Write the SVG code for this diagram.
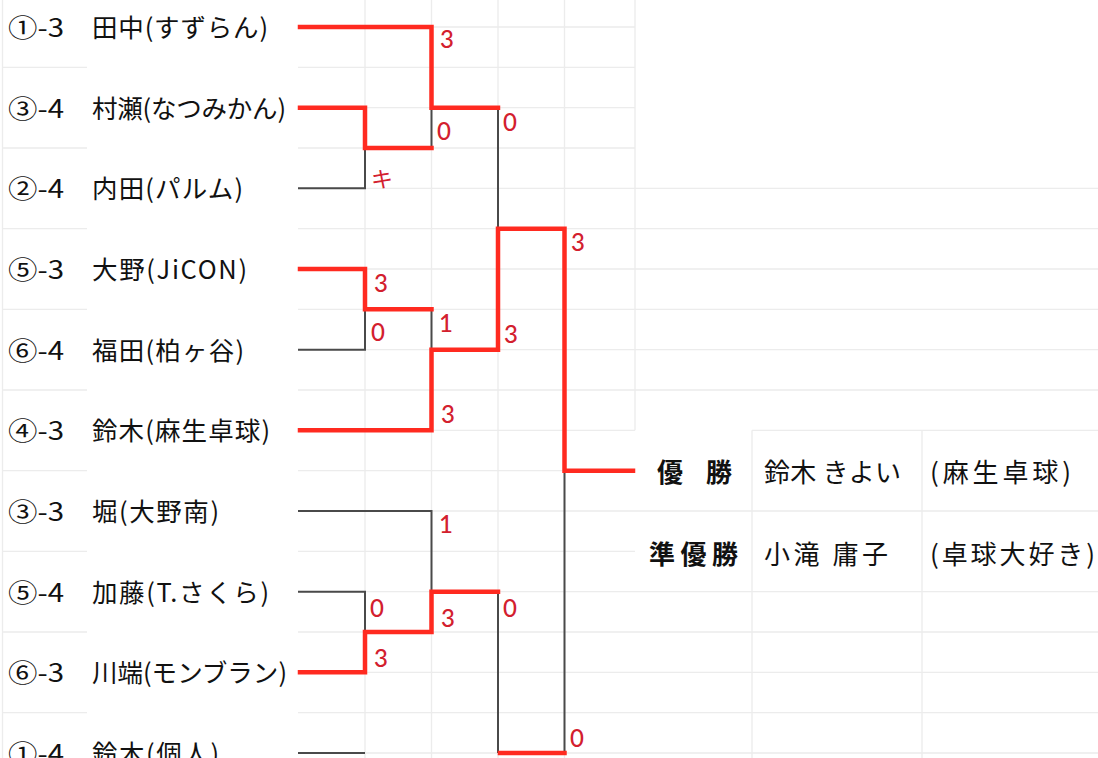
<svg xmlns="http://www.w3.org/2000/svg" width="1098" height="758" viewBox="0 0 1098 758">
<style>
.grid{fill:none;stroke:#ececec;stroke-width:1.3}
.win{fill:none;stroke:#ff2a20;stroke-width:4.5;stroke-linecap:square;stroke-linejoin:miter}
.lose{fill:none;stroke:#4a4a4a;stroke-width:2}
.seed{font-family:'Noto Sans CJK JP','Noto Sans',sans-serif;font-size:25px;fill:#111}
.name{font-family:'Noto Sans CJK JP','Noto Sans',sans-serif;font-size:25.5px;fill:#111}
.score{font-family:Lato,'Noto Sans',sans-serif;font-size:24px;font-weight:500;fill:#d3202e}
.kana{font-family:'Noto Sans CJK JP',sans-serif;font-size:22px;fill:#d3202e}
.title{font-family:'Noto Sans CJK JP',sans-serif;font-size:26px;font-weight:bold;fill:#111}
.res{font-family:'Noto Sans CJK JP',sans-serif;font-size:26px;fill:#111}
</style>
<rect width="1098" height="758" fill="#fff"/>
<g id="grid">
<path class="grid" d="M2.5,0V758 M2,67.3H87 M2,148H87 M2,228.7H87 M2,309.3H87 M2,390H87 M2,470.7H87 M2,551.3H87 M2,632H87 M2,712.7H87"/>
<path class="grid" d="M298,27H635 M298,67.3H635 M298,107.7H635 M298,148H635 M298,188.3H635 M298,228.7H635 M298,269H635 M298,309.3H635 M298,349.7H635 M298,390H635 M298,430.3H635 M298,470.7H635 M298,511H635 M298,551.3H635 M298,591.7H635 M298,632H635 M298,672.3H635 M298,712.7H635 M298,753H635"/>
<path class="grid" d="M365,0V758 M431.5,0V758 M498,0V758 M564.5,0V758 M635,0V430.3"/>
<path class="grid" d="M635,188.3H1098 M635,228.7H1098 M635,269H1098 M635,309.3H1098 M635,349.7H1098 M635,390H1098 M752,430.3H1098 M635,511H1098 M635,591.7H1098 M635,632H1098 M635,672.3H1098 M635,712.7H1098 M635,753H1098 M752,430.3V758 M922,430.3V758"/>
</g>
<g id="connectors">
<path class="lose" d="M298,188.3H365V148 M431.5,107.7V148 M298,349.7H365V309.3 M431.5,309.3V349.7 M498,107.7V228.7 M298,511H431.5V591.7 M298,591.7H365V632 M498,591.7V753 M564.5,470.7V753 M298,753H365"/>
<path class="win" d="M300,27H431.5V107.7H498"/>
<path class="win" d="M300,107.7H365V148H431.5"/>
<path class="win" d="M300,269H365V309.3H431.5"/>
<path class="win" d="M300,430.3H431.5V349.7H498V228.7H564.5V470.7H633"/>
<path class="win" d="M300,672.3H365V632H431.5V591.7H498"/>
<path class="win" d="M500,753H564.5"/>
</g>
<g id="scores">
<text class="score" x="440" y="48">3</text>
<text class="score" x="437" y="140">0</text>
<text class="kana" x="371" y="187">キ</text>
<text class="score" x="503" y="131">0</text>
<text class="score" x="571" y="251">3</text>
<text class="score" x="374" y="292">3</text>
<text class="score" x="371" y="341">0</text>
<text class="score" x="439" y="332">1</text>
<text class="score" x="504" y="343">3</text>
<text class="score" x="441" y="423">3</text>
<text class="score" x="439" y="533">1</text>
<text class="score" x="370" y="617">0</text>
<text class="score" x="441" y="627">3</text>
<text class="score" x="503" y="617">0</text>
<text class="score" x="374" y="667">3</text>
<text class="score" x="570" y="747">0</text>
</g>
<g id="p1"><text class="seed" x="8" y="37" textLength="56" lengthAdjust="spacingAndGlyphs">①-3</text><text class="name" x="92" y="37" textLength="176">田中(すずらん)</text></g>
<g id="p2"><text class="seed" x="8" y="117.7" textLength="56" lengthAdjust="spacingAndGlyphs">③-4</text><text class="name" x="92" y="117.7" textLength="194">村瀬(なつみかん)</text></g>
<g id="p3"><text class="seed" x="8" y="198.3" textLength="56" lengthAdjust="spacingAndGlyphs">②-4</text><text class="name" x="92" y="198.3" textLength="151">内田(パルム)</text></g>
<g id="p4"><text class="seed" x="8" y="279" textLength="56" lengthAdjust="spacingAndGlyphs">⑤-3</text><text class="name" x="92" y="279" textLength="155">大野(JiCON)</text></g>
<g id="p5"><text class="seed" x="8" y="359.7" textLength="56" lengthAdjust="spacingAndGlyphs">⑥-4</text><text class="name" x="92" y="359.7" textLength="152">福田(柏ヶ谷)</text></g>
<g id="p6"><text class="seed" x="8" y="440.3" textLength="56" lengthAdjust="spacingAndGlyphs">④-3</text><text class="name" x="92" y="440.3" textLength="178">鈴木(麻生卓球)</text></g>
<g id="p7"><text class="seed" x="8" y="521" textLength="56" lengthAdjust="spacingAndGlyphs">③-3</text><text class="name" x="92" y="521" textLength="127">堀(大野南)</text></g>
<g id="p8"><text class="seed" x="8" y="601.7" textLength="56" lengthAdjust="spacingAndGlyphs">⑤-4</text><text class="name" x="92" y="601.7" textLength="177">加藤(T.さくら)</text></g>
<g id="p9"><text class="seed" x="8" y="682.3" textLength="56" lengthAdjust="spacingAndGlyphs">⑥-3</text><text class="name" x="92" y="682.3" textLength="195">川端(モンブラン)</text></g>
<g id="p10"><text class="seed" x="8" y="763" textLength="56" lengthAdjust="spacingAndGlyphs">①-4</text><text class="name" x="92" y="763" textLength="127">鈴木(個人)</text></g>
<g id="champion">
<text class="title" x="657" y="482" textLength="75">優 勝</text>
<text class="res" x="764" y="482" textLength="137">鈴木 きよい</text>
<text class="res" x="930" y="482" textLength="141">(麻生卓球)</text>
</g>
<g id="runnerup">
<text class="title" x="649" y="564" textLength="89">準優勝</text>
<text class="res" x="764" y="564" textLength="124">小滝 庸子</text>
<text class="res" x="930" y="564" textLength="165">(卓球大好き)</text>
</g>
</svg>
